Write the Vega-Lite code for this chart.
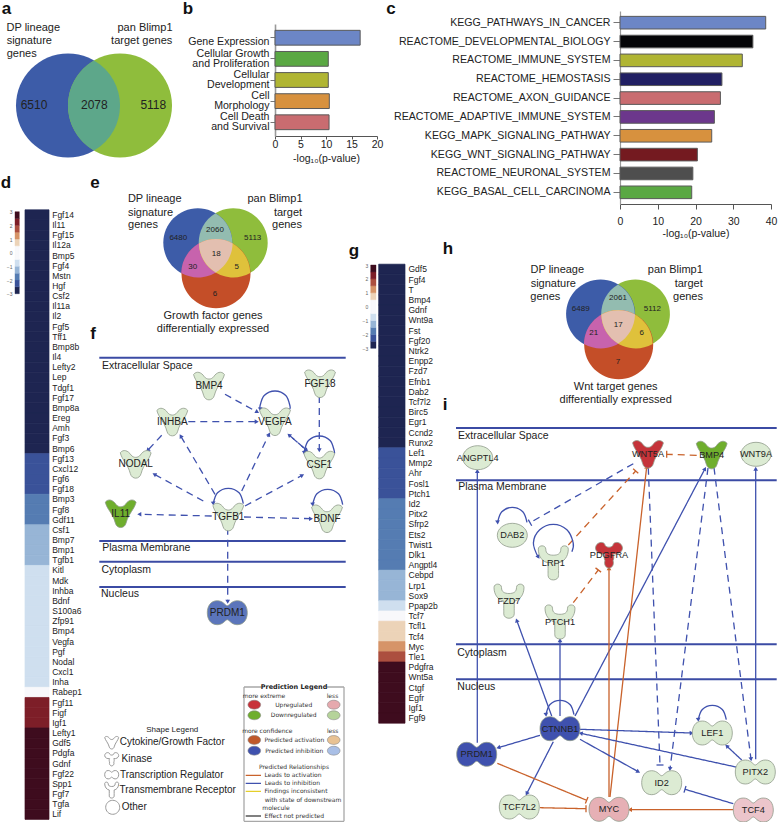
{
"$schema":"https://vega.github.io/schema/vega-lite/v6.json",
"width":778,"height":822,"padding":0,"background":"white",
"config":{"view":{"stroke":null},"font":"Liberation Sans","axis":{"grid":false,"labelFont":"Liberation Sans","titleFont":"Liberation Sans","labelColor":"#222222","titleColor":"#222222"}},
"datasets":{
"bpanel":[{"term":"Gene Expression","v":16.7},{"term":"Cellular Growth|and Proliferation","v":10.45},{"term":"Cellular|Development","v":10.45},{"term":"Cell|Morphology","v":10.65},{"term":"Cell Death|and Survival","v":10.6}],
"cpanel":[{"term":"KEGG_PATHWAYS_IN_CANCER","v":38.6},{"term":"REACTOME_DEVELOPMENTAL_BIOLOGY","v":35.2},{"term":"REACTOME_IMMUNE_SYSTEM","v":32.4},{"term":"REACTOME_HEMOSTASIS","v":27.0},{"term":"REACTOME_AXON_GUIDANCE","v":26.6},{"term":"REACTOME_ADAPTIVE_IMMUNE_SYSTEM","v":25.0},{"term":"KEGG_MAPK_SIGNALING_PATHWAY","v":24.3},{"term":"KEGG_WNT_SIGNALING_PATHWAY","v":20.5},{"term":"REACTOME_NEURONAL_SYSTEM","v":19.3},{"term":"KEGG_BASAL_CELL_CARCINOMA","v":19.0}],
"dheat":[{"g":"Fgf14","z":-3},{"g":"Il11","z":-3},{"g":"Fgf15","z":-3},{"g":"Il12a","z":-3},{"g":"Bmp5","z":-3},{"g":"Fgf4","z":-3},{"g":"Mstn","z":-3},{"g":"Hgf","z":-3},{"g":"Csf2","z":-3},{"g":"Il11a","z":-3},{"g":"Il2","z":-3},{"g":"Fgf5","z":-3},{"g":"Tff1","z":-3},{"g":"Bmp8b","z":-3},{"g":"Il4","z":-3},{"g":"Lefty2","z":-3},{"g":"Lep","z":-3},{"g":"Tdgf1","z":-3},{"g":"Fgf17","z":-3},{"g":"Bmp8a","z":-3},{"g":"Ereg","z":-3},{"g":"Amh","z":-3},{"g":"Fgf3","z":-3},{"g":"Bmp6","z":-3},{"g":"Fgf13","z":-2},{"g":"Cxcl12","z":-2},{"g":"Fgf6","z":-2},{"g":"Fgf18","z":-2},{"g":"Bmp3","z":-1.5},{"g":"Fgf8","z":-1.5},{"g":"Gdf11","z":-1.5},{"g":"Csf1","z":-1},{"g":"Bmp7","z":-1},{"g":"Bmp1","z":-1},{"g":"Tgfb1","z":-1},{"g":"Kitl","z":-0.5},{"g":"Mdk","z":-0.5},{"g":"Inhba","z":-0.5},{"g":"Bdnf","z":-0.5},{"g":"S100a6","z":-0.5},{"g":"Zfp91","z":-0.5},{"g":"Bmp4","z":-0.5},{"g":"Vegfa","z":-0.5},{"g":"Pgf","z":-0.5},{"g":"Nodal","z":-0.5},{"g":"Cxcl1","z":-0.5},{"g":"Inha","z":-0.5},{"g":"Rabep1","z":0},{"g":"Fgf11","z":2},{"g":"Figf","z":2},{"g":"Igf1","z":2},{"g":"Lefty1","z":3},{"g":"Gdf5","z":3},{"g":"Pdgfa","z":3},{"g":"Gdnf","z":3},{"g":"Fgf22","z":3},{"g":"Spp1","z":3},{"g":"Fgf7","z":3},{"g":"Tgfa","z":3},{"g":"Lif","z":3}],
"gheat":[{"g":"Gdf5","z":-3},{"g":"Fgf4","z":-3},{"g":"T","z":-3},{"g":"Bmp4","z":-3},{"g":"Gdnf","z":-3},{"g":"Wnt9a","z":-3},{"g":"Fst","z":-3},{"g":"Fgf20","z":-3},{"g":"Ntrk2","z":-3},{"g":"Enpp2","z":-3},{"g":"Fzd7","z":-3},{"g":"Efnb1","z":-3},{"g":"Dab2","z":-3},{"g":"Tcf7l2","z":-3},{"g":"Birc5","z":-3},{"g":"Egr1","z":-3},{"g":"Ccnd2","z":-3},{"g":"Runx2","z":-3},{"g":"Lef1","z":-2},{"g":"Mmp2","z":-2},{"g":"Ahr","z":-2},{"g":"Fosl1","z":-2},{"g":"Ptch1","z":-2},{"g":"Id2","z":-1.5},{"g":"Pitx2","z":-1.5},{"g":"Sfrp2","z":-1.5},{"g":"Ets2","z":-1.5},{"g":"Twist1","z":-1.5},{"g":"Dlk1","z":-1.5},{"g":"Angptl4","z":-1.5},{"g":"Cebpd","z":-1},{"g":"Lrp1","z":-1},{"g":"Sox9","z":-1},{"g":"Ppap2b","z":-0.5},{"g":"Tcf7","z":0},{"g":"Tcfl1","z":0.5},{"g":"Tcf4","z":0.5},{"g":"Myc","z":1},{"g":"Tle1","z":1.5},{"g":"Pdgfra","z":3},{"g":"Wnt5a","z":3},{"g":"Ctgf","z":3},{"g":"Egfr","z":3},{"g":"Igf1","z":3},{"g":"Fgf9","z":3}],
"cbar":[{"lo":-3,"hi":-2.5,"z":-3},{"lo":-2.5,"hi":-2,"z":-2},{"lo":-2,"hi":-1.5,"z":-1.5},{"lo":-1.5,"hi":-1,"z":-1},{"lo":-1,"hi":-0.5,"z":-0.5},{"lo":-0.5,"hi":0.5,"z":0},{"lo":0.5,"hi":1,"z":0.5},{"lo":1,"hi":1.5,"z":1},{"lo":1.5,"hi":2,"z":1.5},{"lo":2,"hi":2.5,"z":2},{"lo":2.5,"hi":3,"z":3}],
"venn":[
{"v":"big","r":"A","x":68,"y":104.5},{"v":"big","r":"B","x":120,"y":104.5},{"v":"big","r":"L","x":94,"y":104.5},
{"v":"small","r":"B","x":233.2,"y":241.8},{"v":"small","r":"A","x":197.8,"y":241.8},{"v":"small","r":"C","x":216,"y":272.8},{"v":"small","r":"AB","x":215.5,"y":241.8},{"v":"small","r":"AC","x":206.9,"y":257.3},{"v":"small","r":"BC","x":224.6,"y":257.3},{"v":"small","r":"ABC","x":215.8,"y":252.1},
{"v":"small","r":"B","x":635.4,"y":313},{"v":"small","r":"A","x":600.6,"y":313},{"v":"small","r":"C","x":618.7,"y":343.7},{"v":"small","r":"AB","x":618,"y":313},{"v":"small","r":"AC","x":609.6,"y":328.3},{"v":"small","r":"BC","x":627,"y":328.3},{"v":"small","r":"ABC","x":618.2,"y":323.2}],
"comp":[{"x":99.3,"x2":345.7,"y":356.7},{"x":99.3,"x2":345.7,"y":540},{"x":99.3,"x2":345.7,"y":560.7},{"x":99.3,"x2":345.7,"y":586},{"x":456,"x2":776.7,"y":427},{"x":456,"x2":776.7,"y":479.3},{"x":456,"x2":776.7,"y":643.3},{"x":456,"x2":776.7,"y":678.3}],
"edges":[
{"x":225,"y":393.3,"x2":257.3,"y2":411,"s":"bd","h":"arrow","a":118.7},
{"x":188.3,"y":420.7,"x2":256.7,"y2":420.7,"s":"bd","h":"arrow","a":90},
{"x":161.7,"y":434.3,"x2":147.7,"y2":449.3,"s":"bd","h":"arrow","a":-137},
{"x":319.3,"y":395,"x2":319.3,"y2":449.3,"s":"bd","h":"arrow","a":180},
{"x":306.7,"y":449.3,"x2":289,"y2":434,"s":"bd","h":"arrow","a":-49},
{"x":289,"y":434,"x2":306.7,"y2":449.3,"s":"bd","h":"arrow","a":131},
{"x":215,"y":493.3,"x2":180.7,"y2":435,"s":"bd","h":"arrow","a":-30.5},
{"x":203.3,"y":500,"x2":154.3,"y2":473.3,"s":"bd","h":"arrow","a":-61.4},
{"x":241.7,"y":490,"x2":269,"y2":433.3,"s":"bd","h":"arrow","a":25.7},
{"x":245,"y":505,"x2":302.3,"y2":474.3,"s":"bd","h":"arrow","a":61.8},
{"x":211.7,"y":515,"x2":139.3,"y2":513.3,"s":"bd","h":"arrow","a":-91.3},
{"x":244,"y":516,"x2":311,"y2":517.7,"s":"bd","h":"arrow","a":88.5},
{"x":227.7,"y":526.7,"x2":227.7,"y2":600.7,"s":"bd","h":"arrow","a":180},
{"x":260.4,"y":408.4,"x2":260.4,"y2":408.4,"s":"b","h":"arrow","a":175},
{"x":304.4,"y":451.9,"x2":304.4,"y2":451.9,"s":"b","h":"arrow","a":175},
{"x":213.3,"y":502.6,"x2":213.3,"y2":502.6,"s":"b","h":"arrow","a":175},
{"x":312.7,"y":503.6,"x2":312.7,"y2":503.6,"s":"b","h":"arrow","a":175},
{"x":477.3,"y":741.7,"x2":477.3,"y2":470,"s":"b","h":"arrow","a":0},
{"x":755.7,"y":758.3,"x2":755.7,"y2":467.7,"s":"b","h":"arrow","a":0},
{"x":575,"y":715,"x2":705,"y2":467.7,"s":"b","h":"arrow","a":27.7},
{"x":610,"y":796,"x2":646.7,"y2":465.7,"s":"o","h":"arrow","a":6.3},
{"x":609,"y":796,"x2":609,"y2":567.3,"s":"o","h":"arrow","a":0},
{"x":551.7,"y":715,"x2":516.7,"y2":619.3,"s":"b","h":"arrow","a":-20},
{"x":560,"y":715,"x2":560,"y2":639.3,"s":"b","h":"arrow","a":0},
{"x":580,"y":728.3,"x2":691.7,"y2":732,"s":"b","h":"arrow","a":88.1},
{"x":736,"y":766,"x2":580.7,"y2":732.3,"s":"b","h":"arrow","a":-77.8},
{"x":741.7,"y":759,"x2":726.7,"y2":745,"s":"b","h":"arrow","a":-47},
{"x":580,"y":738.3,"x2":638.3,"y2":770.7,"s":"b","h":"arrow","a":119},
{"x":540,"y":734.3,"x2":498.3,"y2":746.7,"s":"b","h":"arrow","a":-106.6},
{"x":553.3,"y":740.7,"x2":526.7,"y2":792.7,"s":"b","h":"arrow","a":-152.9},
{"x":733.3,"y":808.7,"x2":630,"y2":808.7,"s":"o","h":"arrow","a":-90},
{"x":497.3,"y":762.3,"x2":586.7,"y2":799.3,"s":"o","h":"tbar","a":112.5},
{"x":540,"y":806.7,"x2":586,"y2":807.7,"s":"o","h":"tbar","a":90},
{"x":733.3,"y":802.7,"x2":685,"y2":788.3,"s":"b","h":"tbar","a":-73.4},
{"x":648.3,"y":466.7,"x2":660,"y2":764,"s":"bd","h":"tbar","a":0},
{"x":708,"y":467,"x2":670,"y2":768,"s":"bd","h":"arrow","a":-172.8},
{"x":714,"y":466.7,"x2":751,"y2":758.3,"s":"bd","h":"arrow","a":172.8},
{"x":696.7,"y":454.3,"x2":666.7,"y2":453.3,"s":"od","h":"tbar","a":-90},
{"x":568.3,"y":544,"x2":635.7,"y2":470,"s":"od","h":"tbar","a":42.3},
{"x":633.3,"y":462.7,"x2":530,"y2":521.7,"s":"bd","h":"tbar","a":-119.7},
{"x":573.3,"y":601.7,"x2":598.3,"y2":569,"s":"od","h":"tbar","a":37.4},
{"x":497.6,"y":521.4,"x2":497.6,"y2":521.4,"s":"b","h":"arrow","a":175},
{"x":538.4,"y":556,"x2":538.4,"y2":556,"s":"b","h":"arrow","a":150},
{"x":546,"y":713.7,"x2":546,"y2":713.7,"s":"b","h":"arrow","a":175},
{"x":698.3,"y":718.7,"x2":698.3,"y2":718.7,"s":"b","h":"arrow","a":175},
{"x":244,"y":686,"x2":261.7,"y2":686,"s":"frame","h":"none","a":0},
{"x":327,"y":686,"x2":344,"y2":686,"s":"frame","h":"none","a":0},
{"x":244,"y":686,"x2":244,"y2":820.3,"s":"frame","h":"none","a":0},
{"x":344,"y":686,"x2":344,"y2":820.3,"s":"frame","h":"none","a":0},
{"x":244,"y":820.3,"x2":344,"y2":820.3,"s":"frame","h":"none","a":0},
{"x":245.7,"y":774.3,"x2":261,"y2":774.3,"s":"o","h":"none","a":0},
{"x":245.7,"y":782.3,"x2":261,"y2":782.3,"s":"b","h":"none","a":0},
{"x":245.7,"y":790.3,"x2":261,"y2":790.3,"s":"yellow","h":"none","a":0},
{"x":245.7,"y":815,"x2":261,"y2":815,"s":"grey","h":"none","a":0}],
"loops":[
{"l":"VEGFA","i":0,"x":260.4,"y":408.4},{"l":"VEGFA","i":1,"x":260,"y":405},{"l":"VEGFA","i":2,"x":264.2,"y":394.5},{"l":"VEGFA","i":3,"x":275,"y":390},{"l":"VEGFA","i":4,"x":285.8,"y":394.5},{"l":"VEGFA","i":5,"x":290,"y":405},{"l":"VEGFA","i":6,"x":289.6,"y":408.4},
{"l":"CSF1","i":0,"x":304.3,"y":452},{"l":"CSF1","i":1,"x":304.3,"y":450},{"l":"CSF1","i":2,"x":308.5,"y":439.5},{"l":"CSF1","i":3,"x":319.3,"y":435},{"l":"CSF1","i":4,"x":330.1,"y":439.5},{"l":"CSF1","i":5,"x":334.3,"y":450},{"l":"CSF1","i":6,"x":334.2,"y":452.5},
{"l":"TGFB1","i":0,"x":213.3,"y":502.7},{"l":"TGFB1","i":1,"x":217.5,"y":491.8},{"l":"TGFB1","i":2,"x":228.3,"y":487.3},{"l":"TGFB1","i":3,"x":239.1,"y":491.8},{"l":"TGFB1","i":4,"x":243.3,"y":502.7},
{"l":"BDNF","i":0,"x":312.7,"y":503.7},{"l":"BDNF","i":1,"x":316.9,"y":492.8},{"l":"BDNF","i":2,"x":327.7,"y":488.3},{"l":"BDNF","i":3,"x":338.5,"y":492.8},{"l":"BDNF","i":4,"x":342.7,"y":503.7},
{"l":"DAB2","i":0,"x":497.6,"y":521.4},{"l":"DAB2","i":1,"x":501.8,"y":510.8},{"l":"DAB2","i":2,"x":512.3,"y":506.3},{"l":"DAB2","i":3,"x":522.8,"y":510.8},{"l":"DAB2","i":4,"x":527,"y":521.4},
{"l":"LRP1","i":0,"x":538.4,"y":556.6},{"l":"LRP1","i":1,"x":533.4,"y":541.9},{"l":"LRP1","i":2,"x":539.7,"y":528.7},{"l":"LRP1","i":3,"x":553.3,"y":523.3},{"l":"LRP1","i":4,"x":566.9,"y":528.7},{"l":"LRP1","i":5,"x":573.2,"y":541.9},{"l":"LRP1","i":6,"x":571.9,"y":550.7},
{"l":"CTNNB1","i":0,"x":546,"y":713.7},{"l":"CTNNB1","i":1,"x":550,"y":703.5},{"l":"CTNNB1","i":2,"x":560,"y":699.3},{"l":"CTNNB1","i":3,"x":570,"y":703.5},{"l":"CTNNB1","i":4,"x":574,"y":713.7},
{"l":"LEF1","i":0,"x":698.3,"y":718.7},{"l":"LEF1","i":1,"x":702.3,"y":708.5},{"l":"LEF1","i":2,"x":712.3,"y":704.3},{"l":"LEF1","i":3,"x":722.3,"y":708.5},{"l":"LEF1","i":4,"x":726.3,"y":718.7}],
"nodes":[
{"id":"BMP4","p":"f","x":209,"y":385,"k":"cyt","st":"lg"},{"id":"FGF18","p":"f","x":320,"y":382.7,"k":"cyt","st":"lg"},{"id":"INHBA","p":"f","x":172.3,"y":421,"k":"cyt","st":"lg"},{"id":"VEGFA","p":"f","x":275,"y":420.7,"k":"cyt","st":"lg"},{"id":"NODAL","p":"f","x":135.7,"y":463.3,"k":"cyt","st":"lg"},{"id":"CSF1","p":"f","x":319.3,"y":464,"k":"cyt","st":"lg"},{"id":"TGFB1","p":"f","x":228.3,"y":516,"k":"cyt","st":"lg"},{"id":"IL11","p":"f","x":120.7,"y":512.7,"k":"cyt","st":"dg"},{"id":"BDNF","p":"f","x":327,"y":517.7,"k":"cyt","st":"lg"},{"id":"PRDM1","p":"f","x":227.3,"y":611.7,"k":"tf","st":"mb"},
{"id":"ANGPTL4","p":"i","x":477.7,"y":456.7,"k":"oth","st":"lg"},{"id":"WNT5A","p":"i","x":648,"y":453.3,"k":"cyt","st":"red"},{"id":"BMP4","p":"i","x":711.7,"y":454,"k":"cyt","st":"dg"},{"id":"WNT9A","p":"i","x":756,"y":453.3,"k":"oth","st":"lg"},{"id":"DAB2","p":"i","x":512.3,"y":534.3,"k":"oth","st":"lg"},{"id":"LRP1","p":"i","x":553.3,"y":561.7,"k":"rec","st":"lg"},{"id":"PDGFRA","p":"i","x":609,"y":554.3,"k":"kin","st":"red"},{"id":"FZD7","p":"i","x":509,"y":600,"k":"rec","st":"lg"},{"id":"PTCH1","p":"i","x":560,"y":620.8,"k":"rec","st":"lg"},{"id":"CTNNB1","p":"i","x":560,"y":727.7,"k":"tf","st":"db"},{"id":"LEF1","p":"i","x":712.3,"y":732,"k":"tf","st":"lg"},{"id":"PRDM1","p":"i","x":476.7,"y":753.3,"k":"tf","st":"db"},{"id":"ID2","p":"i","x":661.7,"y":781.7,"k":"tf","st":"lg"},{"id":"PITX2","p":"i","x":755.3,"y":771,"k":"tf","st":"lg"},{"id":"TCF7L2","p":"i","x":519.3,"y":806,"k":"tf","st":"lg"},{"id":"MYC","p":"i","x":609,"y":808.3,"k":"tf","st":"pink"},{"id":"TCF4","p":"i","x":753.3,"y":809,"k":"tf","st":"pale"}],
"icons":[{"x":111.7,"y":741.7,"k":"cyt"},{"x":111.7,"y":758.3,"k":"kin"},{"x":111.7,"y":773.7,"k":"tf"},{"x":111.7,"y":789,"k":"rec"},{"x":112.7,"y":806.3,"k":"cir"}],
"ovals":[{"x":254.3,"y":703.7,"c":"a"},{"x":333.7,"y":703.7,"c":"b"},{"x":254.3,"y":714.3,"c":"c"},{"x":333.7,"y":714.3,"c":"d"},{"x":254.3,"y":739,"c":"e"},{"x":333.7,"y":739,"c":"f"},{"x":254.3,"y":749.7,"c":"g"},{"x":333.7,"y":749.7,"c":"h"}],
"letters":[{"t":"a","x":6.5,"y":13},{"t":"b","x":188,"y":13},{"t":"c","x":391,"y":13},{"t":"d","x":6,"y":187},{"t":"e","x":95,"y":187},{"t":"f","x":93,"y":338},{"t":"g","x":354,"y":255},{"t":"h","x":448,"y":253},{"t":"i","x":445,"y":409}],
"text":[
{"t":"DP lineage","f":"v","x":33.3,"y":26.7},{"t":"signature","f":"v","x":29.3,"y":40},{"t":"genes","f":"v","x":21.7,"y":53.3},{"t":"pan Blimp1","f":"v","x":145,"y":26.7},{"t":"target genes","f":"v","x":141.7,"y":40},
{"t":"6510","f":"n12","x":34,"y":103.7},{"t":"2078","f":"n12","x":94.3,"y":103.7},{"t":"5118","f":"n12","x":153.3,"y":103.7},
{"t":"DP lineage","f":"v","x":154.7,"y":198.3},{"t":"signature","f":"v","x":150.5,"y":211.7},{"t":"genes","f":"v","x":143,"y":224.3},{"t":"pan Blimp1","f":"v","x":275,"y":198.3},{"t":"target","f":"v","x":288,"y":211.7},{"t":"genes","f":"v","x":287,"y":224.3},
{"t":"6480","f":"n8","x":178.3,"y":237},{"t":"2060","f":"n8","x":215,"y":228.7},{"t":"5113","f":"n8","x":252.7,"y":237},{"t":"18","f":"n8","x":216.3,"y":253.3},{"t":"30","f":"n8","x":192.7,"y":265.7},{"t":"5","f":"n8","x":236.7,"y":265.7},{"t":"6","f":"n8","x":215,"y":292.7},
{"t":"Growth factor genes","f":"v","x":213,"y":315.3},{"t":"differentially expressed","f":"v","x":213,"y":328.3},
{"t":"DP lineage","f":"v","x":557.3,"y":269.3},{"t":"signature","f":"v","x":553.3,"y":282.7},{"t":"genes","f":"v","x":545.3,"y":295.7},{"t":"pan Blimp1","f":"v","x":675.3,"y":269.3},{"t":"target","f":"v","x":688.7,"y":282.7},{"t":"genes","f":"v","x":688,"y":295.7},
{"t":"6489","f":"n8","x":580.7,"y":308},{"t":"2061","f":"n8","x":618,"y":297.3},{"t":"5112","f":"n8","x":652.3,"y":308},{"t":"17","f":"n8","x":618.3,"y":324.3},{"t":"21","f":"n8","x":593.7,"y":332.3},{"t":"6","f":"n8","x":641.7,"y":332.3},{"t":"7","f":"n8","x":618,"y":361},
{"t":"Wnt target genes","f":"v","x":615.7,"y":386.3},{"t":"differentially expressed","f":"v","x":615.7,"y":399.3},
{"t":"Extracellular Space","f":"r","x":147.3,"y":365.3},{"t":"Plasma Membrane","f":"r","x":146.3,"y":547.3},{"t":"Cytoplasm","f":"r","x":126.3,"y":569},{"t":"Nucleus","f":"r","x":120,"y":593.3},
{"t":"Extracellular Space","f":"r","x":503.3,"y":435},{"t":"Plasma Membrane","f":"r","x":502.2,"y":486.3},{"t":"Cytoplasm","f":"r","x":482,"y":651.7},{"t":"Nucleus","f":"r","x":476.3,"y":685.7},
{"t":"Shape Legend","f":"n8","x":172.3,"y":728.7},{"t":"Cytokine/Growth Factor","f":"l10","x":172.2,"y":741.3},{"t":"Kinase","f":"l10","x":136.8,"y":758.3},{"t":"Transcription Regulator","f":"l10","x":171.7,"y":773.7},{"t":"Transmembrane Receptor","f":"l10","x":177.7,"y":789},{"t":"Other","f":"l10","x":134.2,"y":806.3}],
"pred":[{"t":"more extreme","x":264,"y":695},{"t":"less","x":332.5,"y":695},{"t":"Upregulated","x":293.7,"y":703.7},{"t":"Downregulated","x":293.7,"y":714.3},{"t":"more confidence","x":267.3,"y":730.3},{"t":"less","x":332.7,"y":730.3},{"t":"Predicted activation","x":294.3,"y":739},{"t":"Predicted inhibition","x":294.3,"y":749.7},{"t":"Predicted Relationships","x":294,"y":766},{"t":"Leads to activation","x":293,"y":774.3},{"t":"Leads to inhibition","x":292.3,"y":782.3},{"t":"Findings inconsistent","x":296,"y":790.3},{"t":"with state of downstream","x":303,"y":798.7},{"t":"molecule","x":276,"y":806.7},{"t":"Effect not predicted","x":294.3,"y":815}]
},
"resolve":{"scale":{"x":"independent","y":"independent","color":"independent","stroke":"independent"},"axis":{"x":"independent","y":"independent"}},
"layer":[
{"data":{"name":"bpanel"},"mark":{"type":"bar","stroke":"#5a5a5a","strokeWidth":1},
"encoding":{
"x":{"field":"v","type":"quantitative","scale":{"domain":[0,20],"range":[275,377],"nice":false},"axis":{"orient":"bottom","offset":-687,"values":[0,5,10,15,20],"title":"-log₁₀(p-value)","titleFontSize":10.5,"titleFontWeight":"normal","labelFontSize":10.5,"titlePadding":4,"domainColor":"#555555","tickColor":"#555555","tickSize":3,"labelPadding":0,"labelFlush":false}},
"y":{"field":"term","type":"nominal","sort":null,"scale":{"range":[23,135],"paddingInner":0.3,"paddingOuter":0.3},"axis":{"orient":"left","offset":-275,"title":null,"labelFontSize":10.6,"labelExpr":"datum.label=='Gene Expression'?['',datum.label]:split(datum.label,'|')","labelLineHeight":9.7,"labelOffset":-5,"labelLimit":300,"domainColor":"#9a9a9a","domainWidth":1.6,"tickColor":"#777777","tickSize":5,"labelPadding":1}},
"color":{"field":"term","type":"nominal","legend":null,"sort":null,"scale":{"domain":["Gene Expression","Cellular Growth|and Proliferation","Cellular|Development","Cell|Morphology","Cell Death|and Survival"],"range":["#6c86c6","#5aa843","#b0b533","#d7913e","#c96c70"]}}}},
{"data":{"name":"cpanel"},"mark":{"type":"bar","stroke":"#5a5a5a","strokeWidth":1},
"encoding":{
"x":{"field":"v","type":"quantitative","scale":{"domain":[0,40],"range":[620,771],"nice":false},"axis":{"orient":"bottom","offset":-619,"values":[0,10,20,30,40],"title":"-log₁₀(p-value)","titleFontSize":10.5,"titleFontWeight":"normal","labelFontSize":10.5,"titlePadding":2,"domainColor":"#555555","tickColor":"#555555","tickSize":5,"labelPadding":7,"labelFlush":false}},
"y":{"field":"term","type":"nominal","sort":null,"scale":{"range":[10,203],"paddingInner":0.33,"paddingOuter":0.285},"axis":{"orient":"left","offset":-620,"title":null,"labelFontSize":10.6,"labelLimit":400,"domainColor":"#9a9a9a","domainWidth":1.2,"tickColor":"#777777","tickSize":7,"labelPadding":3}},
"color":{"field":"term","type":"nominal","legend":null,"sort":null,"scale":{"domain":["KEGG_PATHWAYS_IN_CANCER","REACTOME_DEVELOPMENTAL_BIOLOGY","REACTOME_IMMUNE_SYSTEM","REACTOME_HEMOSTASIS","REACTOME_AXON_GUIDANCE","REACTOME_ADAPTIVE_IMMUNE_SYSTEM","KEGG_MAPK_SIGNALING_PATHWAY","KEGG_WNT_SIGNALING_PATHWAY","REACTOME_NEURONAL_SYSTEM","KEGG_BASAL_CELL_CARCINOMA"],"range":["#6c86c6","#060608","#b0b533","#211f63","#c96c70","#6c378c","#d7913e","#741a20","#4e4e4e","#5aa843"]}}}},
{"data":{"name":"dheat"},"mark":{"type":"rect","strokeWidth":0.7},
"encoding":{
"x":{"datum":"z-score","type":"nominal","scale":{"range":[25,49]},"axis":null},
"y":{"field":"g","type":"nominal","sort":null,"scale":{"range":[208.8,818.4],"padding":0},"axis":{"orient":"right","offset":-729,"title":null,"domain":false,"ticks":false,"labelFontSize":8.5,"labelPadding":2.7,"labelOverlap":false}},
"color":{"field":"z","type":"ordinal","legend":null,"scale":{"domain":[-3,-2,-1.5,-1,-0.5,0,0.5,1,1.5,2,3],"range":["#1e2551","#3a5299","#557cb2","#97b5d6","#cfdfef","#f8f8fb","#ecd3b8","#d69468","#ac4f3f","#7d1e28","#3e0c1e"]}},
"stroke":{"field":"z","type":"ordinal","legend":null,"scale":{"domain":[-3,-2,-1.5,-1,-0.5,0,0.5,1,1.5,2,3],"range":["#1e2551","#3a5299","#557cb2","#97b5d6","#cfdfef","#f8f8fb","#ecd3b8","#d69468","#ac4f3f","#7d1e28","#3e0c1e"]}}}},
{"data":{"name":"gheat"},"mark":{"type":"rect","strokeWidth":0.7},
"encoding":{
"x":{"datum":"z-score","type":"nominal","scale":{"range":[378.7,405]},"axis":null},
"y":{"field":"g","type":"nominal","sort":null,"scale":{"range":[263.2,722.2],"padding":0},"axis":{"orient":"right","offset":-373,"title":null,"domain":false,"ticks":false,"labelFontSize":8.5,"labelPadding":3,"labelOverlap":false}},
"color":{"field":"z","type":"ordinal","legend":null,"scale":{"domain":[-3,-2,-1.5,-1,-0.5,0,0.5,1,1.5,2,3],"range":["#1e2551","#3a5299","#557cb2","#97b5d6","#cfdfef","#f8f8fb","#ecd3b8","#d69468","#ac4f3f","#7d1e28","#3e0c1e"]}},
"stroke":{"field":"z","type":"ordinal","legend":null,"scale":{"domain":[-3,-2,-1.5,-1,-0.5,0,0.5,1,1.5,2,3],"range":["#1e2551","#3a5299","#557cb2","#97b5d6","#cfdfef","#f8f8fb","#ecd3b8","#d69468","#ac4f3f","#7d1e28","#3e0c1e"]}}}},
{"data":{"name":"cbar"},"mark":{"type":"rect","strokeWidth":0.4},
"encoding":{
"x":{"datum":"key","type":"nominal","scale":{"range":[15,19.3]},"axis":null},
"y":{"field":"lo","type":"quantitative","scale":{"domain":[-3,3],"range":[292.7,210.7],"nice":false},"axis":{"orient":"left","offset":-15,"title":null,"values":[-3,-2,-1,0,1,2,3],"domain":false,"ticks":false,"labelFontSize":5,"labelColor":"#666666","labelPadding":3}},
"y2":{"field":"hi"},
"color":{"field":"z","type":"ordinal","legend":null,"scale":{"domain":[-3,-2,-1.5,-1,-0.5,0,0.5,1,1.5,2,3],"range":["#1e2551","#3a5299","#557cb2","#97b5d6","#cfdfef","#f8f8fb","#ecd3b8","#d69468","#ac4f3f","#7d1e28","#3e0c1e"]}},
"stroke":{"field":"z","type":"ordinal","legend":null,"scale":{"domain":[-3,-2,-1.5,-1,-0.5,0,0.5,1,1.5,2,3],"range":["#1e2551","#3a5299","#557cb2","#97b5d6","#cfdfef","#f8f8fb","#ecd3b8","#d69468","#ac4f3f","#7d1e28","#3e0c1e"]}}}},
{"data":{"name":"cbar"},"mark":{"type":"rect","strokeWidth":0.4},
"encoding":{
"x":{"datum":"key","type":"nominal","scale":{"range":[370.7,376]},"axis":null},
"y":{"field":"lo","type":"quantitative","scale":{"domain":[-3,3],"range":[347.3,264],"nice":false},"axis":{"orient":"left","offset":-370.7,"title":null,"values":[-3,-2,-1,0,1,2,3],"domain":false,"ticks":false,"labelFontSize":5,"labelColor":"#666666","labelPadding":3}},
"y2":{"field":"hi"},
"color":{"field":"z","type":"ordinal","legend":null,"scale":{"domain":[-3,-2,-1.5,-1,-0.5,0,0.5,1,1.5,2,3],"range":["#1e2551","#3a5299","#557cb2","#97b5d6","#cfdfef","#f8f8fb","#ecd3b8","#d69468","#ac4f3f","#7d1e28","#3e0c1e"]}},
"stroke":{"field":"z","type":"ordinal","legend":null,"scale":{"domain":[-3,-2,-1.5,-1,-0.5,0,0.5,1,1.5,2,3],"range":["#1e2551","#3a5299","#557cb2","#97b5d6","#cfdfef","#f8f8fb","#ecd3b8","#d69468","#ac4f3f","#7d1e28","#3e0c1e"]}}}},
{
"encoding":{
"x":{"field":"x","type":"quantitative","scale":{"domain":[0,778],"range":[0,778],"nice":false},"axis":null},
"y":{"field":"y","type":"quantitative","scale":{"domain":[0,822],"range":[0,822],"nice":false},"axis":null}},
"resolve":{"scale":{"color":"independent","size":"independent","shape":"independent","strokeDash":"independent","fill":"independent"}},
"layer":[
{"data":{"name":"venn"},"mark":{"type":"point","filled":true,"opacity":1,"strokeWidth":0},
"encoding":{
"shape":{"field":"r","type":"nominal","legend":null,"scale":{"domain":["A","B","C","L","AB","AC","BC","ABC"],"range":[
"M-1,0C-1,-0.552,-0.552,-1,0,-1C0.552,-1,1,-0.552,1,0C1,0.552,0.552,1,0,1C-0.552,1,-1,0.552,-1,0Z",
"M-1,0C-1,-0.552,-0.552,-1,0,-1C0.552,-1,1,-0.552,1,0C1,0.552,0.552,1,0,1C-0.552,1,-1,0.552,-1,0Z",
"M-1,0C-1,-0.552,-0.552,-1,0,-1C0.552,-1,1,-0.552,1,0C1,0.552,0.552,1,0,1C-0.552,1,-1,0.552,-1,0Z",
"M0,-0.866C0.667,-0.481,0.667,0.481,0,0.866C-0.667,0.481,-0.667,-0.481,0,-0.866Z",
"M0,-0.858C0.649,-0.47,0.649,0.47,0,0.858C-0.649,0.47,-0.649,-0.47,0,-0.858Z",
"M0.743,-0.429C0.7315,0.327,-0.0825,0.797,-0.743,0.429C-0.7315,-0.327,0.0825,-0.797,0.743,-0.429Z",
"M-0.743,-0.429C-0.7315,0.327,0.0825,0.797,0.743,0.429C0.7315,-0.327,-0.0825,-0.797,-0.743,-0.429Z",
"M-0.4865,-0.281C-0.184,-0.449,0.184,-0.449,0.4865,-0.281C0.481,0.065,0.297,0.384,0,0.562C-0.297,0.384,-0.481,0.065,-0.4865,-0.281Z"]}},
"size":{"field":"v","type":"nominal","legend":null,"scale":{"domain":["big","small"],"range":[10816,4761]}},
"fill":{"field":"r","type":"nominal","legend":null,"scale":{"domain":["A","B","C","L","AB","AC","BC","ABC"],"range":["#3d5ca8","#8fbd3c","#c44e28","#5da78a","#93bcb0","#c763ad","#dfc13b","#e3bfb0"]}}
}},
{"data":{"name":"comp"},"mark":{"type":"rule","stroke":"#3b4ba4","strokeWidth":2},"encoding":{"x2":{"field":"x2"}}},
{"data":{"name":"edges"},"mark":{"type":"rule","strokeWidth":1.3},
"encoding":{"x2":{"field":"x2"},"y2":{"field":"y2"},
"color":{"field":"s","type":"nominal","legend":null,"scale":{"domain":["b","bd","o","od","frame","yellow","grey"],"range":["#3f51ae","#3f51ae","#c9622b","#c9622b","#a8a8a8","#e5cf2a","#555555"]}},
"strokeDash":{"field":"s","type":"nominal","legend":null,"scale":{"domain":["b","bd","o","od","frame","yellow","grey"],"range":[[1,0],[7,5],[1,0],[7,5],[1,0],[1,0],[1,0]]}}}},
{"data":{"name":"loops"},"mark":{"type":"line","interpolate":"cardinal","stroke":"#3f51ae","strokeWidth":1.3},
"encoding":{"detail":{"field":"l"},"order":{"field":"i","type":"quantitative"}}},
{"data":{"name":"edges"},"transform":[{"filter":"datum.h=='arrow'"}],"mark":{"type":"point","filled":true,"opacity":1,"shape":"triangle-up","size":22},
"encoding":{"x":{"field":"x2","type":"quantitative","scale":{"domain":[0,778],"range":[0,778],"nice":false},"axis":null},"y":{"field":"y2","type":"quantitative","scale":{"domain":[0,822],"range":[0,822],"nice":false},"axis":null},
"angle":{"field":"a","type":"quantitative","scale":null},
"color":{"field":"s","type":"nominal","legend":null,"scale":{"domain":["b","bd","o","od"],"range":["#3f51ae","#3f51ae","#c9622b","#c9622b"]}}}},
{"data":{"name":"edges"},"transform":[{"filter":"datum.h=='tbar'"}],"mark":{"type":"point","filled":false,"opacity":1,"shape":"M-1,0L1,0","size":49,"strokeWidth":1.3},
"encoding":{"x":{"field":"x2","type":"quantitative","scale":{"domain":[0,778],"range":[0,778],"nice":false},"axis":null},"y":{"field":"y2","type":"quantitative","scale":{"domain":[0,822],"range":[0,822],"nice":false},"axis":null},
"angle":{"field":"a","type":"quantitative","scale":null},
"color":{"field":"s","type":"nominal","legend":null,"scale":{"domain":["b","bd","o","od"],"range":["#3f51ae","#3f51ae","#c9622b","#c9622b"]}}}},
{"data":{"name":"nodes"},"transform":[{"filter":"datum.k=='cyt'"}],"mark":{"type":"point","filled":true,"opacity":1,"stroke":"#8f9a8a","strokeWidth":0.8,"size":950,"shape":"M-1,-0.75C-0.8,-1,-0.5,-0.9,-0.3,-0.6C-0.15,-0.4,0.15,-0.4,0.3,-0.6C0.5,-0.9,0.8,-1,1,-0.75C0.9,-0.3,0.5,0,0.35,0.6C0.25,1,-0.25,1,-0.35,0.6C-0.5,0,-0.9,-0.3,-1,-0.75Z"},
"encoding":{"fill":{"field":"st","type":"nominal","legend":null,"scale":{"domain":["lg","dg","mb","db","red","pink","pale"],"range":["#dcebd3","#6fae2d","#5b75bb","#3f51ae","#c5343a","#e6b0b5","#ecc5cb"]}}}},
{"data":{"name":"nodes"},"transform":[{"filter":"datum.k=='tf'"}],"mark":{"type":"point","filled":true,"opacity":1,"stroke":"#8f9a8a","strokeWidth":0.8,"size":1600,"shape":"M-0.5,-0.6C-0.2,-0.6,-0.1,-0.35,0,-0.35C0.1,-0.35,0.2,-0.6,0.5,-0.6C0.85,-0.6,1,-0.3,1,0C1,0.3,0.85,0.6,0.5,0.6C0.2,0.6,0.1,0.35,0,0.35C-0.1,0.35,-0.2,0.6,-0.5,0.6C-0.85,0.6,-1,0.3,-1,0C-1,-0.3,-0.85,-0.6,-0.5,-0.6Z"},
"encoding":{"fill":{"field":"st","type":"nominal","legend":null,"scale":{"domain":["lg","dg","mb","db","red","pink","pale"],"range":["#dcebd3","#6fae2d","#5b75bb","#3f51ae","#c5343a","#e6b0b5","#ecc5cb"]}}}},
{"data":{"name":"nodes"},"transform":[{"filter":"datum.k=='oth'"}],"mark":{"type":"point","filled":true,"opacity":1,"stroke":"#8f9a8a","strokeWidth":0.8,"size":900,"shape":"M-1,0C-1,-0.44,-0.55,-0.8,0,-0.8C0.55,-0.8,1,-0.44,1,0C1,0.44,0.55,0.8,0,0.8C-0.55,0.8,-1,0.44,-1,0Z"},
"encoding":{"fill":{"field":"st","type":"nominal","legend":null,"scale":{"domain":["lg","dg","mb","db","red","pink","pale"],"range":["#dcebd3","#6fae2d","#5b75bb","#3f51ae","#c5343a","#e6b0b5","#ecc5cb"]}}}},
{"data":{"name":"nodes"},"transform":[{"filter":"datum.k=='rec'"}],"mark":{"type":"point","filled":true,"opacity":1,"stroke":"#8f9a8a","strokeWidth":0.8,"size":900,"shape":"M-1,-0.9C-1,-1.2,-0.5,-1.2,-0.5,-0.9C-0.5,-0.6,-0.3,-0.5,0,-0.5C0.3,-0.5,0.5,-0.6,0.5,-0.9C0.5,-1.2,1,-1.2,1,-0.9C1,-0.4,0.7,-0.05,0.35,0C0.35,0.4,0.35,0.7,0.35,0.85C0.35,1.25,-0.35,1.25,-0.35,0.85C-0.35,0.7,-0.35,0.4,-0.35,0C-0.7,-0.05,-1,-0.4,-1,-0.9Z"},
"encoding":{"fill":{"field":"st","type":"nominal","legend":null,"scale":{"domain":["lg","dg","mb","db","red","pink","pale"],"range":["#dcebd3","#6fae2d","#5b75bb","#3f51ae","#c5343a","#e6b0b5","#ecc5cb"]}}}},
{"data":{"name":"nodes"},"transform":[{"filter":"datum.k=='kin'"}],"mark":{"type":"point","filled":true,"opacity":1,"stroke":"#8f9a8a","strokeWidth":0.8,"size":729,"shape":"M-0.3,-0.75C-0.3,-1.05,-0.95,-1.05,-1,-0.55C-1,-0.2,-0.6,-0.05,-0.3,-0.1C-0.4,0.1,-0.35,0.3,-0.3,0.4C-0.4,0.7,-0.2,0.95,0,0.95C0.2,0.95,0.4,0.7,0.3,0.4C0.35,0.3,0.4,0.1,0.3,-0.1C0.6,-0.05,1,-0.2,1,-0.55C0.95,-1.05,0.3,-1.05,0.3,-0.75C0.15,-0.55,-0.15,-0.55,-0.3,-0.75Z"},
"encoding":{"fill":{"field":"st","type":"nominal","legend":null,"scale":{"domain":["lg","dg","mb","db","red","pink","pale"],"range":["#dcebd3","#6fae2d","#5b75bb","#3f51ae","#c5343a","#e6b0b5","#ecc5cb"]}}}},
{"data":{"name":"icons"},"mark":{"type":"point","filled":true,"opacity":1,"fill":"#ffffff","stroke":"#9a9a9a","strokeWidth":1,"size":196},
"encoding":{"shape":{"field":"k","type":"nominal","legend":null,"scale":{"domain":["cyt","tf","cir","rec","kin"],"range":[
"M-1,-0.75C-0.8,-1,-0.5,-0.9,-0.3,-0.6C-0.15,-0.4,0.15,-0.4,0.3,-0.6C0.5,-0.9,0.8,-1,1,-0.75C0.9,-0.3,0.5,0,0.35,0.6C0.25,1,-0.25,1,-0.35,0.6C-0.5,0,-0.9,-0.3,-1,-0.75Z",
"M-0.5,-0.6C-0.2,-0.6,-0.1,-0.35,0,-0.35C0.1,-0.35,0.2,-0.6,0.5,-0.6C0.85,-0.6,1,-0.3,1,0C1,0.3,0.85,0.6,0.5,0.6C0.2,0.6,0.1,0.35,0,0.35C-0.1,0.35,-0.2,0.6,-0.5,0.6C-0.85,0.6,-1,0.3,-1,0C-1,-0.3,-0.85,-0.6,-0.5,-0.6Z",
"M-1,0C-1,-0.552,-0.552,-1,0,-1C0.552,-1,1,-0.552,1,0C1,0.552,0.552,1,0,1C-0.552,1,-1,0.552,-1,0Z",
"M-1,-0.9C-1,-1.2,-0.5,-1.2,-0.5,-0.9C-0.5,-0.6,-0.3,-0.5,0,-0.5C0.3,-0.5,0.5,-0.6,0.5,-0.9C0.5,-1.2,1,-1.2,1,-0.9C1,-0.4,0.7,-0.05,0.35,0C0.35,0.4,0.35,0.7,0.35,0.85C0.35,1.25,-0.35,1.25,-0.35,0.85C-0.35,0.7,-0.35,0.4,-0.35,0C-0.7,-0.05,-1,-0.4,-1,-0.9Z",
"M-0.3,-0.75C-0.3,-1.05,-0.95,-1.05,-1,-0.55C-1,-0.2,-0.6,-0.05,-0.3,-0.1C-0.4,0.1,-0.35,0.3,-0.3,0.4C-0.4,0.7,-0.2,0.95,0,0.95C0.2,0.95,0.4,0.7,0.3,0.4C0.35,0.3,0.4,0.1,0.3,-0.1C0.6,-0.05,1,-0.2,1,-0.55C0.95,-1.05,0.3,-1.05,0.3,-0.75C0.15,-0.55,-0.15,-0.55,-0.3,-0.75Z"]}}}},
{"data":{"name":"ovals"},"mark":{"type":"point","filled":true,"opacity":1,"stroke":"#888888","strokeWidth":0.6,"size":160,"shape":"M-1,0C-1,-0.39,-0.55,-0.7,0,-0.7C0.55,-0.7,1,-0.39,1,0C1,0.39,0.55,0.7,0,0.7C-0.55,0.7,-1,0.39,-1,0Z"},
"encoding":{"fill":{"field":"c","type":"nominal","legend":null,"scale":{"domain":["a","b","c","d","e","f","g","h"],"range":["#c8323a","#e6a9ae","#6fae2d","#b5d39a","#c0592a","#e8c293","#3f51ae","#a9bfe6"]}}}},
{"data":{"name":"nodes"},"transform":[{"filter":"datum.p=='f'"}],"mark":{"type":"text","fontSize":10,"color":"#222222","baseline":"middle","font":"Liberation Sans"},"encoding":{"text":{"field":"id"}}},
{"data":{"name":"nodes"},"transform":[{"filter":"datum.p=='i'"}],"mark":{"type":"text","fontSize":9.2,"color":"#222222","baseline":"middle","font":"Liberation Sans"},"encoding":{"text":{"field":"id"}}},
{"data":{"name":"letters"},"mark":{"type":"text","fontSize":17,"fontWeight":"bold","color":"#111111","baseline":"alphabetic","font":"Liberation Sans"},"encoding":{"text":{"field":"t"}}},
{"data":{"name":"text"},"transform":[{"filter":"datum.f=='v'"}],"mark":{"type":"text","fontSize":11,"color":"#222222","baseline":"middle","font":"Liberation Sans"},"encoding":{"text":{"field":"t"}}},
{"data":{"name":"text"},"transform":[{"filter":"datum.f=='n12'"}],"mark":{"type":"text","fontSize":12,"color":"#222222","baseline":"middle","font":"Liberation Sans"},"encoding":{"text":{"field":"t"}}},
{"data":{"name":"text"},"transform":[{"filter":"datum.f=='n8'"}],"mark":{"type":"text","fontSize":8,"color":"#222222","baseline":"middle","font":"Liberation Sans"},"encoding":{"text":{"field":"t"}}},
{"data":{"name":"text"},"transform":[{"filter":"datum.f=='r'"}],"mark":{"type":"text","fontSize":10.5,"color":"#222222","baseline":"middle","font":"Liberation Sans"},"encoding":{"text":{"field":"t"}}},
{"data":{"name":"text"},"transform":[{"filter":"datum.f=='l10'"}],"mark":{"type":"text","fontSize":10,"color":"#222222","baseline":"middle","font":"Liberation Sans"},"encoding":{"text":{"field":"t"}}},
{"data":{"name":"pred"},"mark":{"type":"text","fontSize":6,"color":"#333333","baseline":"middle","font":"DejaVu Sans"},"encoding":{"text":{"field":"t"}}},
{"data":{"values":[{"t":"Prediction Legend","x":294,"y":686.3}]},"mark":{"type":"text","fontSize":6.5,"fontWeight":"bold","color":"#222222","baseline":"middle","font":"DejaVu Sans"},"encoding":{"text":{"field":"t"}}}
]}
]}
